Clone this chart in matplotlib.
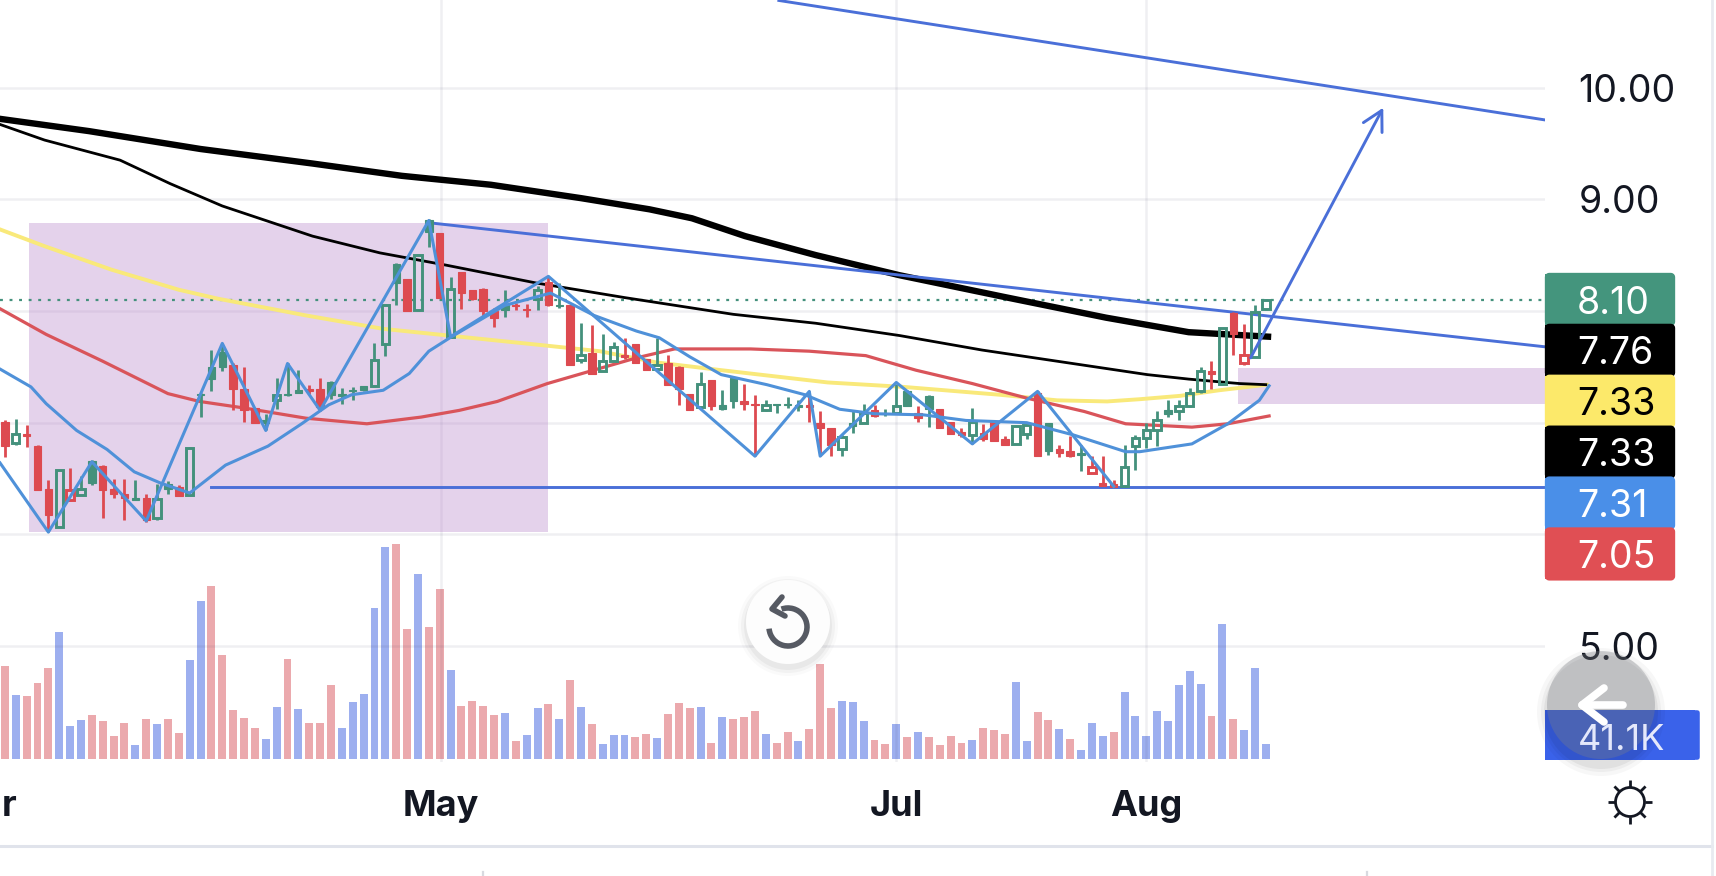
import numpy as np
import matplotlib
matplotlib.use('Agg')
import matplotlib.pyplot as plt
from matplotlib.patches import Circle, FancyBboxPatch, Rectangle, Arc

plt.rcParams['font.family'] = ['Inter', 'DejaVu Sans']

# candles, one row of values per list: high, body top, body bottom, low
# g = filled green, h = hollow green, r = filled red, k = hollow red
kinds = ('rhrrrhkhgr' 'rrgrhgrhgg' 'grrrghggrr' 'gggghhgrhg' 'rhrrrrgrrh' 'rgrhrhhrrr'
         'hrrrhrggrr' 'hgggrrrhgh' 'rghgrgrrrh' 'rrrhhrgrrg' 'krrhhhhghh' 'hrhrkhh')

high = [7.02, 7.03, 6.98, 6.80, 6.49, 6.58, 6.59, 6.52, 6.67, 6.62, 6.50, 6.50, 6.49, 6.36, 6.45,
        6.48, 6.44, 6.78, 7.27, 7.65, 7.71, 7.53, 7.50, 7.13, 7.08, 7.40, 7.53, 7.47, 7.34, 7.40,
        7.37, 7.31, 7.32, 7.33, 7.71, 8.06, 8.43, 8.29, 8.51, 8.82, 8.70, 8.30, 8.35, 8.19, 8.21,
        8.03, 8.19, 8.07, 8.06, 8.22, 8.30, 8.25, 8.05, 7.89, 7.87, 7.79, 7.72, 7.76, 7.70, 7.57,
        7.76, 7.61, 7.51, 7.26, 7.45, 7.38, 7.29, 7.41, 7.35, 7.25, 7.20, 7.17, 7.23, 7.20, 7.28,
        7.10, 6.95, 6.89, 7.11, 7.17, 7.16, 7.12, 7.35, 7.29, 7.15, 7.25, 7.12, 7.01, 6.95, 7.13,
        6.99, 7.01, 6.88, 6.97, 6.99, 7.28, 7.00, 6.80, 6.88, 6.80, 6.70, 6.70, 6.49, 6.80, 6.89,
        7.00, 7.10, 7.20, 7.20, 7.31, 7.50, 7.55, 7.85, 7.99, 7.88, 8.05, 8.11]
body_top = [7.01, 6.90, 6.90, 6.79, 6.41, 6.58, 6.40, 6.41, 6.66, 6.61, 6.41, 6.36, 6.33, 6.33, 6.32,
            6.45, 6.42, 6.77, 7.26, 7.50, 7.63, 7.52, 7.30, 7.13, 7.02, 7.25, 7.26, 7.29, 7.30, 7.30,
            7.36, 7.26, 7.29, 7.33, 7.56, 8.05, 8.42, 8.29, 8.50, 8.81, 8.70, 8.20, 8.35, 8.19, 8.20,
            8.00, 8.05, 8.05, 8.02, 8.19, 8.26, 8.05, 8.05, 7.61, 7.62, 7.55, 7.68, 7.61, 7.70, 7.57,
            7.52, 7.53, 7.50, 7.26, 7.35, 7.38, 7.16, 7.40, 7.19, 7.17, 7.16, 7.17, 7.17, 7.16, 7.16,
            7.00, 6.95, 6.87, 7.00, 7.09, 7.11, 7.09, 7.15, 7.28, 7.09, 7.24, 7.12, 7.01, 6.92, 7.01,
            6.91, 7.01, 6.85, 6.97, 6.98, 7.27, 7.00, 6.76, 6.75, 6.73, 6.60, 6.46, 6.45, 6.60, 6.86,
            6.93, 7.02, 7.11, 7.15, 7.27, 7.46, 7.46, 7.85, 7.98, 7.61, 7.99, 8.10]
body_bot = [6.79, 6.82, 6.88, 6.40, 6.17, 6.07, 6.31, 6.35, 6.46, 6.40, 6.36, 6.33, 6.31, 6.13, 6.15,
            6.41, 6.34, 6.35, 7.25, 7.39, 7.50, 7.30, 7.11, 7.00, 7.00, 7.20, 7.25, 7.27, 7.28, 7.14,
            7.25, 7.24, 7.28, 7.29, 7.33, 7.70, 8.25, 8.00, 8.01, 8.71, 8.12, 7.77, 8.16, 8.11, 8.00,
            7.94, 8.01, 8.04, 8.01, 8.11, 8.05, 8.04, 7.52, 7.56, 7.44, 7.46, 7.55, 7.59, 7.53, 7.47,
            7.48, 7.34, 7.30, 7.11, 7.14, 7.15, 7.12, 7.19, 7.17, 7.16, 7.11, 7.16, 7.16, 7.14, 7.14,
            6.95, 6.80, 6.76, 6.97, 7.00, 7.06, 7.08, 7.09, 7.15, 7.04, 7.12, 6.95, 6.90, 6.89, 6.89,
            6.85, 6.84, 6.80, 6.81, 6.90, 6.70, 6.75, 6.73, 6.70, 6.71, 6.55, 6.43, 6.42, 6.43, 6.79,
            6.86, 6.93, 7.08, 7.10, 7.15, 7.28, 7.44, 7.35, 7.79, 7.53, 7.59, 8.02]
low = [6.69, 6.80, 6.78, 6.40, 6.02, 6.07, 6.30, 6.35, 6.44, 6.15, 6.33, 6.13, 6.31, 6.11, 6.13,
       6.36, 6.34, 6.35, 7.05, 7.28, 7.46, 7.11, 7.01, 7.00, 6.93, 7.12, 7.24, 7.27, 7.26, 7.10,
       7.21, 7.17, 7.20, 7.28, 7.32, 7.60, 8.05, 8.00, 8.00, 8.57, 8.12, 7.76, 8.02, 8.10, 7.94,
       7.86, 7.95, 8.01, 7.95, 8.01, 8.04, 8.03, 7.52, 7.53, 7.44, 7.46, 7.55, 7.57, 7.53, 7.47,
       7.47, 7.34, 7.16, 7.11, 7.12, 7.11, 7.11, 7.13, 7.11, 6.70, 7.10, 7.09, 7.13, 7.10, 7.01,
       6.70, 6.70, 6.70, 6.91, 7.00, 7.05, 7.06, 7.09, 7.15, 7.01, 6.96, 6.95, 6.90, 6.87, 6.81,
       6.84, 6.84, 6.80, 6.81, 6.85, 6.70, 6.71, 6.69, 6.69, 6.57, 6.55, 6.43, 6.42, 6.42, 6.58,
       6.77, 6.79, 7.05, 7.02, 7.14, 7.27, 7.30, 7.34, 7.61, 7.52, 7.59, 8.01]

# volume in thousands, with the colour of each bar (b = blue, p = pink)
volume = [260, 178, 176, 212, 254, 355, 92, 108, 122, 106, 64, 100, 38, 111, 97, 111, 72, 276, 442, 484,
          290, 136, 114, 86, 55, 145, 279, 139, 100, 100, 206, 86, 159, 181, 422, 593, 601, 363, 517, 369,
          475, 248, 148, 162, 148, 122, 128, 50, 66, 142, 153, 111, 220, 145, 97, 41, 66, 66, 61,
          69, 58, 125, 156, 142, 145, 44, 117, 111, 117, 134, 69, 44, 75, 50, 83, 265, 142, 162, 159,
          106, 52, 41, 97, 61, 75, 61, 38, 64, 44, 52, 86, 80, 69, 215, 50, 131, 108, 83, 55,
          24, 100, 64, 75, 187, 120, 64, 134, 106, 206, 246, 209, 120, 377, 111, 80, 254, 41]
vol_kind = ('pbpppbbbpp' 'ppbpbppbbp' 'ppppbbpbpp' 'pbbbbbppbp' 'pbppppbpbb' 'pbpbpbbbp'
            'pbpppbpbpp' 'pbppbpppbb' 'bppbpbpppp' 'bpppbbppbp' 'bbbpbbbbbb' 'bbpbpbbb')

# lines: bar position and price at the points
ema_thick_x = [-0.45, 7.75, 18, 28.3, 36.5, 44.7, 53, 59.3, 63.2, 68.1, 74.6, 82.3, 91.7, 101.3, 108.9, 116.2]
ema_thick_y = [9.72, 9.61, 9.45, 9.32, 9.21, 9.13, 9.01, 8.91, 8.83, 8.67, 8.50, 8.32, 8.13, 7.94, 7.81, 7.77]
ema_thin_x = [-0.45, 3.65, 10.6, 15.2, 20, 28.3, 34.5, 40.6, 48.9, 57, 67, 74.6, 82.3, 89.9, 97.5, 105.1, 108.9, 111.2, 113.6, 116]
ema_thin_y = [9.67, 9.53, 9.35, 9.14, 8.94, 8.67, 8.52, 8.41, 8.25, 8.12, 7.97, 7.89, 7.78, 7.65, 7.54, 7.43, 7.39, 7.37, 7.35, 7.34]
yellow_x = [-0.45, 3.65, 9.8, 16, 19.6, 27.7, 34.8, 41.8, 48.8, 54.7, 59.9, 65.9, 75.7, 82.7, 91.5, 96.8, 101.4, 104.4, 108.1, 111.7, 116.1]
yellow_y = [8.73, 8.58, 8.37, 8.19, 8.11, 7.96, 7.84, 7.77, 7.70, 7.64, 7.54, 7.47, 7.36, 7.32, 7.25, 7.20, 7.19, 7.21, 7.24, 7.29, 7.34]
red_x = [-0.45, 3.8, 9, 15, 17.9, 22.1, 27.7, 33.3, 38.3, 41.8, 45.3, 49.9, 53.8, 58.1, 61.6, 68.6, 74, 79.2, 83.8, 89, 94, 99.3, 103.1, 109.2, 112.5, 116.3]
red_y = [8.02, 7.79, 7.55, 7.26, 7.19, 7.13, 7.04, 6.99, 7.05, 7.11, 7.19, 7.35, 7.46, 7.58, 7.66, 7.66, 7.64, 7.60, 7.47, 7.35, 7.22, 7.10, 6.99, 6.96, 6.99, 7.06]
ma_x = [-0.45, 2.4, 3.8, 6.6, 9.4, 11.9, 14.3, 17, 20.3, 24.2, 27.3, 29.8, 31.9, 34.8, 37.2, 39, 41.1, 46, 50.2, 54.2, 58.1, 60.2, 63, 65.9, 70.1, 73.6, 76.8, 80, 84.5, 88.4, 94, 98.3, 103.1, 104.4, 109.2, 112.5, 115.4, 116.3]
ma_y = [7.48, 7.32, 7.17, 6.93, 6.76, 6.56, 6.46, 6.37, 6.62, 6.79, 6.99, 7.16, 7.25, 7.29, 7.44, 7.64, 7.77, 8.05, 8.16, 7.96, 7.82, 7.76, 7.59, 7.43, 7.34, 7.25, 7.12, 7.08, 7.07, 7.02, 7.00, 6.89, 6.74, 6.74, 6.81, 6.99, 7.20, 7.33]
zigzag_x = [-0.45, 4, 8, 13, 20, 24, 26, 29, 39, 41, 50, 69, 74, 75, 82, 89, 95, 102]
zigzag_y = [6.64, 6.02, 6.65, 6.12, 7.71, 6.93, 7.53, 7.11, 8.81, 7.77, 8.31, 6.70, 7.28, 6.70, 7.36, 6.81, 7.28, 6.43]

# drawn trend lines and zones
upper_trend_x = [71.2, 141.7]
upper_trend_y = [10.78, 9.71]
lower_trend_x = [39, 141.6]
lower_trend_y = [8.79, 7.68]
support_x = [19, 141.7]
support_y = [6.42, 6.42]
arrow_x = [114.6, 126.8]
arrow_y = [7.58, 9.82]
zone_left = (2.2, 50, 6.02, 8.79)
zone_right = (113.4, 141.7, 7.17, 7.49)
last_price = 8.10

# 6, 7 and 8 have no label of their own, the price tags sit over them
price_ticks = [5, 6, 7, 8, 9, 10]
price_tick_labels = ['5.00', '', '', '', '9.00', '10.00']
month_pos = [40.1, 82, 105]
month_labels = ['May', 'Jul', 'Aug']
tag_labels = ['8.10', '7.76', '7.33', '7.33', '7.31', '7.05']
tag_colors = ['#44957d', '#000000', '#fce96a', '#000000', '#4a8fe8', '#e04f54']
tag_text = ['white', 'white', 'black', 'white', 'white', 'white']

GREEN = '#44917c'
RED = '#dd4a50'
TREND = '#4a6fd8'
MA = '#4f91d9'
TEXT = '#131722'
W, H = 1716, 876

fig = plt.figure(figsize=(W / 100, H / 100), dpi=100, facecolor='white')
plot_rect = [0, (H - 762) / H, 1545 / W, 762 / H]

# volume sits underneath with its own scale
ax_vol = fig.add_axes(plot_rect, zorder=0)
ax_vol.set_xlim(-0.45, 141.68)
ax_vol.set_ylim(-9.24, 2124.4)
ax_vol.axis('off')
bars = np.arange(len(volume))
vol_cols = ['#9dafef' if k == 'b' else '#eba9ad' for k in vol_kind]
ax_vol.bar(bars, volume, width=0.73, color=vol_cols, linewidth=0)

# price panel
ax = fig.add_axes(plot_rect, zorder=1)
ax.patch.set_visible(False)
ax.set_xlim(-0.45, 141.68)
ax.set_ylim(3.962, 10.784)
for s in ax.spines.values():
    s.set_visible(False)
ax.yaxis.tick_right()
ax.set_yticks(price_ticks)
ax.set_yticklabels(price_tick_labels, fontsize=27, color=TEXT, ha='left')
ax.set_xticks(month_pos)
ax.set_xticklabels(month_labels, fontsize=26, fontweight='bold', color=TEXT)
ax.tick_params(axis='y', length=0, pad=24)
ax.tick_params(axis='x', length=0, pad=20)
ax.grid(True, color='#33335a', alpha=0.075, linewidth=1.8)
ax.set_axisbelow(True)

for z in (zone_left, zone_right):
    ax.add_patch(Rectangle((z[0], z[2]), z[1] - z[0], z[3] - z[2], facecolor='#b47fc8', alpha=0.35, linewidth=0, zorder=1.6))

ax.axhline(last_price, color=GREEN, linewidth=1.6, linestyle=(0, (1.3, 3)), zorder=1.7)
ax.plot(yellow_x, yellow_y, color='#f9e97a', linewidth=2.8, zorder=2)
ax.plot(red_x, red_y, color='#d9545a', linewidth=2.3, zorder=2)
ax.plot(ema_thin_x, ema_thin_y, color='black', linewidth=2.0, zorder=2)
ax.plot(ema_thick_x, ema_thick_y, color='black', linewidth=4.6, zorder=2)
ax.plot(upper_trend_x, upper_trend_y, color=TREND, linewidth=2.1, zorder=2.2)
ax.plot(lower_trend_x, lower_trend_y, color=TREND, linewidth=2.1, zorder=2.2)
ax.plot(support_x, support_y, color=TREND, linewidth=2.1, zorder=2.2)

# candles
for i, k in enumerate(kinds):
    col = GREEN if k in 'gh' else RED
    ax.vlines(i, body_top[i], high[i], color=col, linewidth=2.0, zorder=3)
    ax.vlines(i, low[i], body_bot[i], color=col, linewidth=2.0, zorder=3)
    hollow = k in 'hk'
    ax.bar(i, body_top[i] - body_bot[i], bottom=body_bot[i], width=0.68,
           facecolor='none' if hollow else col, edgecolor=col,
           linewidth=2.1 if hollow else 0.8, zorder=3)

ax.plot(ma_x, ma_y, color=MA, linewidth=2.2, zorder=3.5)
ax.plot(zigzag_x, zigzag_y, color=MA, linewidth=2.2, zorder=3.5)
ax.annotate('', xy=(arrow_x[1], arrow_y[1]), xytext=(arrow_x[0], arrow_y[0]),
            arrowprops=dict(arrowstyle='->,head_length=0.7,head_width=0.38', color=TREND, lw=2.1,
                            mutation_scale=20, shrinkA=0, shrinkB=0), zorder=3.6)

# interface bits on top, in pixel coordinates
ui = fig.add_axes([0, 0, 1, 1], zorder=5)
ui.set_xlim(0, W)
ui.set_ylim(H, 0)
ui.axis('off')

ui.text(17, 806, 'r', fontsize=26, fontweight='bold', color=TEXT, ha='right', va='center')

for n, lab in enumerate(tag_labels):
    y0 = 274 + n * 50.9
    ui.add_patch(FancyBboxPatch((1549, y0 + 3), 122, 44.9, boxstyle='round,pad=0,rounding_size=0.1',
                                facecolor=tag_colors[n], edgecolor=tag_colors[n], linewidth=6, joinstyle='round'))
    ui.add_patch(Rectangle((1545, y0), 20, 50.9, facecolor=tag_colors[n], linewidth=0))
    ui.text(1577, y0 + 25.5, lab, fontsize=27, color=tag_text[n], ha='left', va='center_baseline')

ui.add_patch(Rectangle((1545, 710), 150, 50, facecolor='#3a62ea', linewidth=0))
ui.add_patch(FancyBboxPatch((1560, 713), 137, 44, boxstyle='round,pad=0,rounding_size=0.1',
                            facecolor='#3a62ea', edgecolor='#3a62ea', linewidth=4))
ui.text(1578, 737, '41.1K', fontsize=26, color='#e4e8fb', ha='left', va='center_baseline')

# round back button with shadow
for r, a in zip([64, 60, 57], [0.03, 0.04, 0.05]):
    ui.add_patch(Circle((1601, 712), r, facecolor='black', alpha=a, linewidth=0))
ui.add_patch(Circle((1601, 705), 54, facecolor='#7d8086', alpha=0.33, linewidth=0))
ui.plot([1623, 1582], [705, 705], color='white', linewidth=5.5, solid_capstyle='round')
ui.plot([1604, 1582, 1604], [688, 705, 722], color='white', linewidth=5.5, solid_capstyle='round', solid_joinstyle='round')

# reload button
for r, a in zip([50, 47, 44], [0.02, 0.03, 0.04]):
    ui.add_patch(Circle((788, 626), r, facecolor='black', alpha=a, linewidth=0))
ui.add_patch(Circle((788, 622), 42, facecolor='#fdfdfd', linewidth=0))
ui.add_patch(Arc((788, 627), 38, 38, theta1=-110, theta2=175, color='#565a63', linewidth=4))
ui.plot([782, 772, 785], [597, 609, 616], color='#565a63', linewidth=4, solid_capstyle='round', solid_joinstyle='round')

# sun icon
ui.add_patch(Circle((1630, 802), 14.5, facecolor='none', edgecolor=TEXT, linewidth=2))
for a in np.deg2rad(np.arange(0, 360, 45)):
    ui.plot([1630 + 15 * np.cos(a), 1630 + 22 * np.cos(a)], [802 + 15 * np.sin(a), 802 + 22 * np.sin(a)],
            color=TEXT, linewidth=2, solid_capstyle='butt')

# frame lines
ui.plot([0, 1712], [846, 846], color='#e0e3eb', linewidth=2.2)
ui.plot([1712, 1712], [0, 876], color='#e8eaf0', linewidth=2)
ui.plot([483, 483], [872, 876], color='#d8dae0', linewidth=1.6)
ui.plot([1367, 1367], [872, 876], color='#d8dae0', linewidth=1.6)

fig.savefig('out.png', dpi=100)
